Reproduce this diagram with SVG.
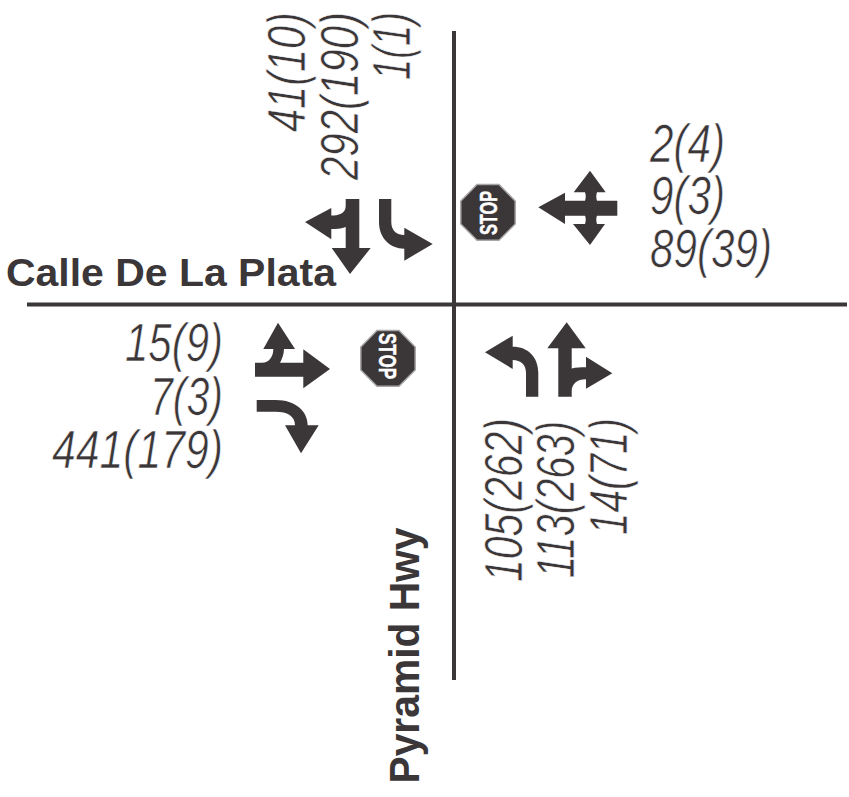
<svg xmlns="http://www.w3.org/2000/svg" width="849" height="797" viewBox="0 0 849 797">
<style>
.a{fill:#3b3638}
.v{font-family:"Liberation Sans",Arial,sans-serif;font-style:italic;font-size:53px;fill:#3b3638;stroke:#fff;stroke-width:.7px}
.l{font-family:"Liberation Sans",Arial,sans-serif;font-weight:bold;fill:#3b3638}
.o{fill:#3b3638;stroke:#a8a6a7;stroke-width:1.5}
.s{font-family:"Liberation Sans",Arial,sans-serif;font-weight:bold;font-size:24.500px;fill:#fff;stroke:#fff;stroke-width:.5px;text-anchor:middle}
.r{stroke:#3b3638;stroke-width:4;fill:none}
</style>
<rect width="849" height="797" fill="#fff"/>
<g id="connectors">
<path class="r" d="M27 304.500H847"/>
<path class="r" d="M454 31V680"/>
</g>
<g id="nw-arrows">
<path class="a" d="M345.700 199H359.300V248H370.700L350 274L331.700 248H345.700V227C340 229 336 229 331.300 229V239.300L305 222L331.300 208V215.500C338 215.500 345.700 214 345.700 206Z"/>
<path class="a" d="M379 199H391.300V222C391.300 231 397 235 404.300 235V227.700L432.700 244L404.300 260.700V248.700C390 248.700 379 238 379 222Z"/>
</g>
<g id="ne-arrows">
<path class="a" d="M590 170.700L605.700 192.300H597C596 195 596 198 597 200.700H617.300V215.700H597C596 218 596 221 597 224H605L590 245L573 224H585C586 221 586 218 585 215.700H565V224L538.300 207.300L565 192.700V200.700H585C586 198 586 195 585 192.300H573.700Z"/>
</g>
<g id="sw-arrows">
<path class="a" d="M278 322.700L295 349H284C284 354 282 359 280 362.700H303.300V349.300L330 369L303.300 388.300V376.700H255V362.700H262C269 362.700 273.300 357 273.300 349H263.300Z"/>
<path class="a" d="M256.700 400H276C295 400 307.700 411 307.700 425.300H318.700L301 453.300L285 425.300H295C295 416 287 411.700 276 411.700H256.700Z"/>
</g>
<g id="se-arrows">
<path class="a" d="M485 352.300L512.700 335.700V346.700C528 346.700 538.300 357 538.300 373V396.700H526V373C526 365 521 360 512.700 360V369Z"/>
<path class="a" d="M566.700 322.300L585.700 348.300H571.700V368.500C576 367.500 581 367.300 586 367.300V356.700L612.300 373.300L586 388.700V379.300C577 379.300 571.700 384 571.700 391V396.700H558.300V348.300H547.300Z"/>
</g>
<g id="stop-north">
<path class="o" d="M477 184.500H499L515.200 201V224L499 240.200H477L460.800 224V201Z"/>
<text class="s" transform="translate(496.500 213) rotate(-90)" textLength="44" lengthAdjust="spacingAndGlyphs">STOP</text>
</g>
<g id="stop-south">
<path class="o" d="M377 330.500H399L415.200 347V370L399 386.200H377L360.800 370V347Z"/>
<text class="s" transform="translate(379 356) rotate(90)" textLength="46" lengthAdjust="spacingAndGlyphs">STOP</text>
</g>
<g id="labels">
<text class="l" font-size="39" x="6" y="285.500" textLength="330" lengthAdjust="spacingAndGlyphs">Calle De La Plata</text>
<text class="l" font-size="42" transform="translate(419 783.500) rotate(-90)" textLength="256" lengthAdjust="spacingAndGlyphs">Pyramid Hwy</text>
</g>
<g id="volumes">
<text class="v" transform="translate(125 361) scale(.792 1)">15(9)</text>
<text class="v" transform="translate(150 415) scale(.775 1)">7(3)</text>
<text class="v" transform="translate(52 468) scale(.806 1)">441(179)</text>
<text class="v" transform="translate(650 162) scale(.796 1)">2(4)</text>
<text class="v" transform="translate(650 214) scale(.796 1)">9(3)</text>
<text class="v" transform="translate(650 267) scale(.796 1)">89(39)</text>
<text class="v" transform="translate(305 132) rotate(-90) scale(.783 1)">41(10)</text>
<text class="v" transform="translate(358 180) rotate(-90) scale(.792 1)">292(190)</text>
<text class="v" transform="translate(410 80) rotate(-90) scale(.722 1)">1(1)</text>
<text class="v" transform="translate(522 582) rotate(-90) scale(.773 1)">105(262)</text>
<text class="v" transform="translate(574 578) rotate(-90) scale(.754 1)">113(263)</text>
<text class="v" transform="translate(627 535) rotate(-90) scale(.764 1)">14(71)</text>
</g>
</svg>
